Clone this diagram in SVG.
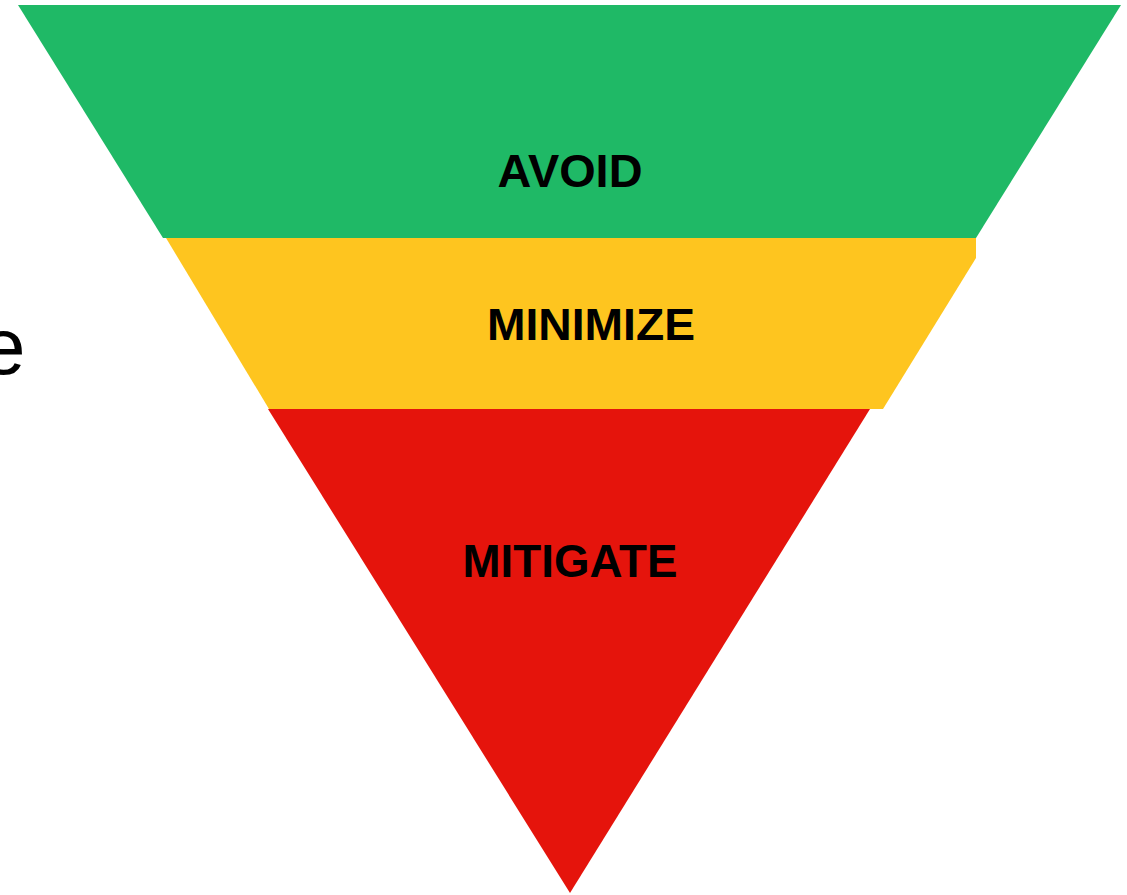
<svg xmlns="http://www.w3.org/2000/svg" width="1127" height="895" viewBox="0 0 1127 895">
  <style>
    .lbl { font-family: "Liberation Sans", Arial, sans-serif; font-weight: bold; fill: #000000; text-anchor: middle; }
    .side { font-family: "Liberation Sans", Arial, sans-serif; font-size: 80px; fill: #000000; }
  </style>
  <rect x="0" y="0" width="1127" height="895" fill="#ffffff"/>
  <text class="side" x="-19" y="374">e</text>
  <g id="avoid">
    <polygon points="18,5 1121,5 976,238 163,238" fill="#1fb966"/>
    <text class="lbl" x="570" y="187" font-size="47" textLength="145" lengthAdjust="spacingAndGlyphs">AVOID</text>
  </g>
  <g id="minimize">
    <polygon points="166,238 976,238 976,258 883,409 269,409" fill="#fec51f"/>
    <text class="lbl" x="591" y="340" font-size="45" textLength="208" lengthAdjust="spacingAndGlyphs">MINIMIZE</text>
  </g>
  <g id="mitigate">
    <polygon points="268,409 870,409 570,893" fill="#e5140c"/>
    <text class="lbl" x="570" y="577" font-size="47" textLength="215" lengthAdjust="spacingAndGlyphs">MITIGATE</text>
  </g>
  <g id="connectors"/>
</svg>
